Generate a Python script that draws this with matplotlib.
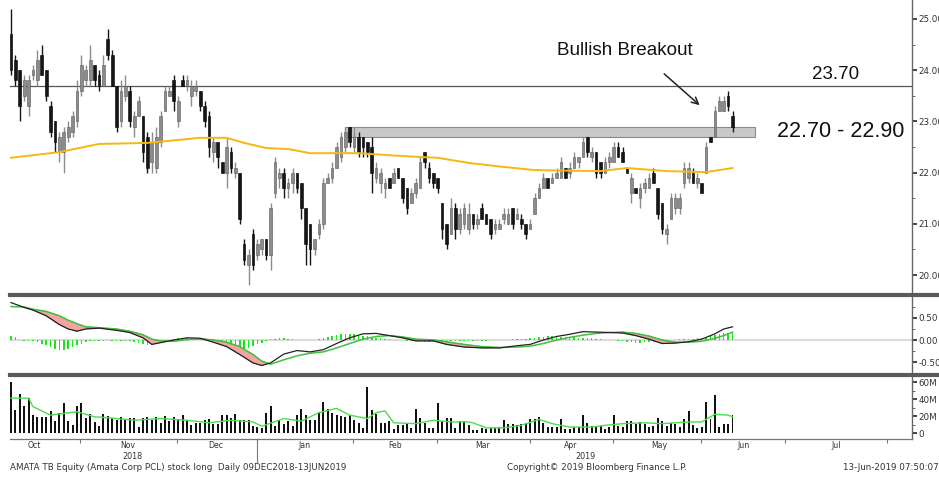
import matplotlib
matplotlib.use('Agg')
import matplotlib.pyplot as plt
import matplotlib.transforms as mtransforms
from matplotlib.patches import Rectangle
from matplotlib.lines import Line2D
import numpy as np

plt.rcParams['font.family'] = ['DejaVu Sans']

# ---------------- data ----------------
opens = [24.7, 24.2, 24.0, 23.5, 23.3, 23.9, 23.8, 24.3, 24.0, 23.3,
         23.0, 22.4, 22.4, 22.7, 22.8, 23.0, 23.6, 23.8, 23.8, 24.1,
         23.9, 23.7, 24.6, 24.3, 23.7, 23.0, 23.5, 23.6, 22.9, 23.1,
         23.1, 22.7, 22.2, 22.1, 22.6, 23.2, 23.5, 23.8, 23.0, 23.8,
         23.7, 23.5, 23.6, 23.6, 23.3, 23.1, 22.4, 22.6, 22.2, 22.0,
         22.4, 22.0, 22.0, 20.6, 20.2, 20.8, 20.4, 20.5, 20.7, 20.4,
         21.6, 21.9, 22.0, 21.7, 21.8, 22.0, 21.8, 21.3, 21.0, 20.5,
         20.8, 21.0, 21.8, 21.9, 22.1, 22.3, 22.5, 22.9, 22.5, 22.7,
         22.7, 22.6, 22.5, 21.9, 21.8, 21.7, 21.9, 21.8, 22.1, 21.9,
         21.7, 21.4, 21.6, 21.7, 22.4, 22.1, 22.0, 21.9, 21.4, 21.0,
         20.8, 21.3, 20.9, 21.0, 20.9, 21.2, 21.0, 21.3, 21.2, 21.1,
         20.9, 20.9, 21.1, 21.0, 21.3, 21.1, 21.1, 21.0, 20.9, 21.2,
         21.5, 21.7, 21.9, 21.8, 21.9, 21.9, 22.1, 22.0, 22.1, 22.2,
         22.3, 22.7, 22.3, 22.4, 22.2, 22.0, 22.2, 22.2, 22.5, 22.4,
         22.1, 21.6, 21.7, 21.5, 21.7, 21.7, 22.0, 21.7, 21.4, 20.8,
         21.1, 21.3, 21.3, 21.8, 21.9, 22.0, 21.8, 21.8, 22.0, 22.7,
         22.7, 23.2, 23.2, 23.5, 23.1]
highs = [25.2, 24.3, 24.0, 23.9, 23.9, 24.1, 24.4, 24.5, 24.0, 23.4,
         23.0, 22.8, 22.9, 23.0, 23.2, 23.8, 24.3, 24.1, 24.5, 24.1,
         24.0, 24.3, 24.8, 24.4, 23.7, 23.8, 23.9, 23.7, 23.2, 23.5,
         23.1, 22.8, 22.8, 22.9, 23.2, 23.7, 23.7, 23.9, 23.5, 23.9,
         23.9, 23.8, 23.8, 23.6, 23.4, 23.2, 22.7, 22.6, 22.2, 22.7,
         22.5, 22.2, 22.0, 20.7, 20.5, 20.9, 20.7, 20.7, 20.7, 21.4,
         22.3, 22.1, 22.1, 21.9, 22.1, 22.0, 21.8, 21.3, 21.0, 20.7,
         21.1, 21.9, 22.0, 22.2, 22.6, 22.8, 22.9, 22.9, 22.9, 22.8,
         22.7, 22.6, 22.7, 22.2, 22.1, 21.9, 21.9, 22.1, 22.1, 21.9,
         21.7, 21.7, 21.9, 22.3, 22.4, 22.2, 22.0, 21.9, 21.4, 21.0,
         21.5, 21.4, 21.3, 21.4, 21.4, 21.2, 21.2, 21.4, 21.2, 21.1,
         21.1, 21.1, 21.3, 21.3, 21.3, 21.3, 21.2, 21.0, 21.1, 21.6,
         21.8, 22.0, 21.9, 22.0, 22.1, 22.3, 22.1, 22.2, 22.4, 22.3,
         22.7, 22.7, 22.5, 22.4, 22.2, 22.3, 22.4, 22.6, 22.6, 22.5,
         22.1, 22.0, 21.7, 21.8, 21.9, 22.0, 22.1, 21.7, 21.4, 21.0,
         21.6, 21.6, 21.6, 22.2, 22.2, 22.1, 22.0, 21.8, 22.6, 22.7,
         23.3, 23.5, 23.5, 23.6, 23.2]
lows = [23.9, 23.7, 23.0, 23.4, 23.1, 23.8, 23.7, 23.9, 23.4, 22.7,
        22.4, 22.2, 22.0, 22.6, 22.7, 22.9, 23.5, 23.7, 23.7, 23.7,
        23.6, 23.7, 24.2, 23.7, 22.8, 22.9, 23.4, 22.9, 22.7, 23.1,
        22.2, 22.0, 22.0, 22.0, 22.5, 23.2, 23.5, 23.2, 22.9, 23.7,
        23.6, 23.3, 23.5, 23.2, 22.9, 22.3, 22.2, 22.1, 22.0, 21.7,
        22.0, 21.9, 21.0, 20.2, 19.8, 20.1, 20.3, 20.4, 20.3, 20.1,
        21.5, 21.7, 21.5, 21.5, 21.6, 21.6, 21.1, 20.2, 20.2, 20.4,
        20.7, 20.9, 21.8, 21.8, 22.1, 22.2, 22.4, 22.5, 22.4, 22.3,
        22.3, 22.3, 21.6, 21.8, 21.6, 21.5, 21.7, 21.8, 21.9, 21.4,
        21.2, 21.4, 21.5, 21.7, 22.1, 21.8, 21.7, 21.6, 20.7, 20.5,
        20.8, 20.7, 20.8, 20.9, 20.8, 20.9, 20.9, 21.1, 21.0, 20.7,
        20.8, 20.9, 21.0, 21.0, 20.9, 21.1, 20.9, 20.7, 20.9, 21.2,
        21.5, 21.7, 21.7, 21.8, 21.9, 21.9, 21.9, 21.9, 22.1, 22.1,
        22.3, 22.3, 22.2, 21.9, 21.9, 22.0, 22.1, 22.2, 22.3, 22.2,
        22.0, 21.4, 21.6, 21.3, 21.6, 21.7, 21.8, 21.1, 20.8, 20.6,
        21.1, 21.2, 21.2, 21.7, 21.8, 21.8, 21.7, 21.6, 22.0, 22.6,
        22.7, 23.2, 23.2, 23.2, 22.8]
closes = [24.0, 23.8, 23.3, 23.8, 23.8, 24.0, 24.2, 23.9, 23.5, 22.8,
          22.6, 22.7, 22.8, 22.9, 23.1, 23.6, 24.1, 24.0, 24.2, 23.8,
          23.7, 24.1, 24.3, 23.7, 22.9, 23.6, 23.7, 23.0, 23.1, 23.4,
          22.4, 22.1, 22.6, 22.7, 23.1, 23.6, 23.6, 23.4, 23.4, 23.7,
          23.8, 23.7, 23.7, 23.3, 23.0, 22.5, 22.6, 22.3, 22.0, 22.5,
          22.1, 22.1, 21.1, 20.3, 20.4, 20.2, 20.6, 20.7, 20.4, 21.3,
          22.2, 22.0, 21.7, 21.8, 22.0, 21.7, 21.3, 20.6, 20.5, 20.7,
          21.0, 21.8, 21.9, 22.1, 22.5, 22.7, 22.8, 22.6, 22.7, 22.4,
          22.5, 22.4, 22.0, 22.1, 22.0, 21.8, 21.7, 22.0, 21.9, 21.5,
          21.3, 21.6, 21.8, 22.2, 22.2, 21.9, 21.8, 21.7, 20.9, 20.6,
          21.3, 20.9, 21.2, 21.3, 21.2, 21.0, 21.1, 21.1, 21.0, 20.8,
          21.0, 21.0, 21.2, 21.2, 21.0, 21.2, 21.0, 20.8, 21.0, 21.5,
          21.7, 21.9, 21.7, 21.9, 22.0, 22.2, 21.9, 22.1, 22.3, 22.3,
          22.6, 22.4, 22.4, 22.0, 22.0, 22.2, 22.3, 22.5, 22.3, 22.2,
          22.0, 21.9, 21.6, 21.7, 21.8, 21.9, 21.8, 21.2, 20.9, 20.9,
          21.5, 21.5, 21.5, 22.1, 22.1, 21.8, 21.9, 21.6, 22.5, 22.6,
          23.2, 23.4, 23.4, 23.3, 22.9]
volumes = [60, 27, 46, 32, 41, 21, 19, 19, 19, 26,
           14, 24, 35, 14, 9, 32, 35, 18, 22, 13,
           8, 22, 20, 18, 15, 19, 15, 18, 18, 7,
           18, 19, 15, 19, 12, 20, 14, 19, 15, 21,
           14, 9, 12, 12, 15, 17, 11, 11, 21, 21,
           18, 22, 15, 15, 15, 8, 7, 6, 24, 32,
           8, 15, 11, 14, 8, 21, 28, 21, 15, 15,
           24, 37, 28, 24, 21, 20, 19, 21, 15, 12,
           6, 54, 27, 22, 12, 12, 14, 5, 9, 9,
           11, 6, 28, 18, 12, 6, 6, 35, 14, 18,
           18, 6, 14, 14, 10, 4, 4, 6, 5, 6,
           6, 7, 15, 11, 11, 9, 11, 12, 16, 16,
           19, 12, 7, 7, 7, 16, 5, 5, 7, 7,
           21, 12, 8, 8, 8, 5, 7, 21, 8, 7,
           14, 14, 11, 13, 11, 7, 8, 18, 14, 8,
           12, 11, 7, 16, 26, 9, 6, 7, 37, 16,
           45, 7, 11, 11, 21]
macd_hist = [0.10, 0.06, -0.01, -0.02, -0.02, -0.03, -0.04,
             -0.08, -0.12, -0.16, -0.20, -0.22, -0.22, -0.20, -0.16, -0.12, -0.08,
             -0.04, -0.03, -0.02, -0.02, -0.02, -0.01, -0.02, -0.03, -0.03, -0.02, -0.03, -0.04,
             -0.06, -0.09, -0.12, -0.12, -0.10, -0.06,
             -0.02, 0.01, 0.03, 0.04, 0.04, 0.05, 0.04, 0.03, 0.02, 0.01, -0.01,
             -0.04, -0.07, -0.10, -0.13, -0.16, -0.18, -0.20, -0.20, -0.18, -0.14, -0.10, -0.06, -0.02,
             0.02, 0.03, 0.04, 0.04, 0.03, 0.02, 0.01, 0.01, 0.00, -0.01, 0.00, 0.02, 0.04, 0.06,
             0.09, 0.11, 0.13, 0.14, 0.14, 0.13, 0.12, 0.10, 0.08, 0.06, 0.05, 0.04,
             0.03, 0.02, 0.01, 0.00, -0.01, -0.02, -0.02, -0.03, -0.03,
             -0.04, -0.04, -0.05, -0.05, -0.04, -0.04, -0.03, -0.03, -0.02, -0.02, -0.02,
             -0.03, -0.03, -0.02, -0.02, -0.01, -0.01, 0.00, 0.01, 0.01, 0.02, 0.02, 0.03, 0.03, 0.04,
             0.05, 0.06, 0.07, 0.08, 0.08, 0.08, 0.07, 0.07, 0.06, 0.06, 0.05, 0.05, 0.04, 0.04, 0.03, 0.02,
             0.01, 0.00, -0.01, -0.02, -0.03, -0.04, -0.05, -0.06, -0.06, -0.05, -0.05, -0.04, -0.03,
             -0.02, -0.01, 0.00, 0.01, 0.02, 0.02, 0.03, 0.03, 0.04,
             0.05, 0.07, 0.09, 0.11, 0.13, 0.15, 0.16, 0.15]

ma_idx = [0, 11, 20, 31, 43, 49, 53, 58, 63, 68, 79, 86, 94, 97, 104, 111, 119, 125, 134, 140, 149, 158, 164]
ma_val = [22.29, 22.40, 22.56, 22.58, 22.68, 22.68, 22.58, 22.48, 22.46, 22.38, 22.38, 22.34,
          22.30, 22.29, 22.19, 22.12, 22.05, 22.04, 22.03, 22.09, 22.03, 22.01, 22.09]

macd_idx = [0, 3, 5, 8, 11, 13, 15, 17, 20, 24, 27, 30, 32, 34, 37, 40, 43, 46, 49, 52,
            55, 57, 59, 62, 65, 68, 71, 74, 77, 80, 83, 86, 89, 92, 96, 99, 103, 107, 111, 115,
            118, 121, 124, 127, 130, 133, 136, 139, 142, 145, 148, 151, 154, 157, 160, 162, 164]
macd_line = [0.85, 0.74, 0.68, 0.55, 0.35, 0.25, 0.20, 0.25, 0.27, 0.22,
             0.17, 0.05, -0.10, -0.06, 0.00, 0.05, 0.04, -0.05, -0.15, -0.33,
             -0.52, -0.58, -0.52, -0.32, -0.24, -0.27, -0.22, -0.08, 0.05, 0.14,
             0.15, 0.10, 0.05, -0.02, -0.02, -0.10, -0.16, -0.18, -0.18, -0.13,
             -0.10, 0.00, 0.08, 0.13, 0.19, 0.18, 0.17, 0.16, 0.10, 0.02,
             -0.08, -0.07, -0.04, 0.02, 0.14, 0.25, 0.30]
signal_line = [0.76, 0.75, 0.70, 0.65, 0.55, 0.45, 0.37, 0.30, 0.28, 0.25,
               0.20, 0.12, 0.02, -0.02, -0.03, 0.01, 0.03, 0.00, -0.05, -0.15,
               -0.33, -0.48, -0.55, -0.45, -0.36, -0.30, -0.27, -0.18, -0.08, 0.02,
               0.08, 0.10, 0.07, 0.02, 0.00, -0.04, -0.10, -0.15, -0.17, -0.16,
               -0.14, -0.08, 0.00, 0.06, 0.11, 0.15, 0.17, 0.18, 0.15, 0.09,
               0.00, -0.05, -0.05, -0.03, 0.04, 0.10, 0.18]

vma_idx = [0, 4, 5, 9, 15, 19, 22, 28, 34, 40, 45, 50, 55, 57, 62, 66, 70, 74, 77, 81,
           83, 85, 87, 92, 96, 100, 104, 105, 108, 112, 116, 120, 123, 127, 132, 135, 139, 144, 148, 154,
           157, 160, 163, 164]
vma_val = [41, 41, 31, 21, 25, 19, 18, 15, 17, 15, 12, 15, 13, 8, 17, 14, 24, 29, 21, 17,
           24, 26, 12, 11, 15, 13, 13, 12, 6, 6, 9, 16, 11, 7, 7, 9, 11, 12, 11, 13,
           13, 22, 21, 19]

month_labels = ['Oct', 'Nov', 'Dec', 'Jan', 'Feb', 'Mar', 'Apr', 'May', 'Jun', 'Jul']
month_centers = [5.2, 26.6, 46.6, 66.8, 87.3, 107.3, 127.3, 147.3, 166.4, 187.5]
month_bounds = [15.7, 37.7, 55.9, 77.7, 96.8, 118.0, 136.8, 156.8, 175.9, 199.1]
year_labels = ['2018', '2019']
year_pos = [27.7, 130.5]
year_bound = 55.9

resistance = 23.70
zone_low, zone_high = 22.70, 22.90
zone_start, zone_end = 75.9, 169.1

# ---------------- layout ----------------
W, H = 939, 479
fig = plt.figure(figsize=(W / 100, H / 100), dpi=100)
fig.patch.set_facecolor('white')

def pbox(x0, y0, x1, y1):
    return [x0 / W, 1 - y1 / H, (x1 - x0) / W, (y1 - y0) / H]

ax = fig.add_axes(pbox(10, 0, 912, 293))
axm = fig.add_axes(pbox(10, 297, 912, 372), sharex=ax)
axv = fig.add_axes(pbox(10, 377, 912, 439), sharex=ax)

XMIN, XMAX = -0.23, 204.8
idx = np.arange(len(closes))
o = np.array(opens); c = np.array(closes)
up = c >= o
body_col = np.where(up, '#8c8c8c', '#161616')
edge_col = np.where(up, '#5a5a5a', '#000000')

# price candles
ax.vlines(idx, lows, highs, colors=body_col, lw=1.0, zorder=3)
ax.bar(idx, np.maximum(np.abs(c - o), 0.03), bottom=np.minimum(o, c), width=0.6,
       color=body_col, edgecolor=edge_col, linewidth=0.4, zorder=4)
ax.plot(ma_idx, ma_val, color='#f6b80c', lw=1.4, zorder=5)
ax.axhline(resistance, color='#555555', lw=0.9, zorder=2)
ax.add_patch(Rectangle((zone_start, zone_low), zone_end - zone_start, zone_high - zone_low,
                       facecolor='#c8c8c8', edgecolor='#8a8a8a', lw=0.8, zorder=2))

ax.text(124.1, 24.375, 'Bullish Breakout', family='Liberation Sans', fontsize=13.6,
        va='center', ha='left', color='#111111')
ax.text(182.0, 23.906, '23.70', family='Liberation Sans', fontsize=13.5,
        va='center', ha='left', color='#111111')
ax.text(174.1, 22.81, '22.70 - 22.90', family='Liberation Sans', fontsize=15.5,
        va='center', ha='left', color='#111111')
ax.annotate('', xy=(157.0, 23.28), xytext=(148.0, 23.965),
            arrowprops=dict(arrowstyle='->', color='#222222', lw=1.1, mutation_scale=12))

ax.set_xlim(XMIN, XMAX)
ax.set_ylim(19.65, 25.37)

# MACD panel
axm.axhline(0, color='#dcdcdc', lw=1.6, zorder=1)
axm.bar(idx, macd_hist, width=0.35, color='#1ee41e', zorder=2)
mi = np.array(macd_idx); ml = np.array(macd_line); sl = np.array(signal_line)
axm.fill_between(mi, ml, sl, where=ml < sl, interpolate=True, color='#f4a3a3',
                 edgecolor='#a04040', lw=0.4, zorder=3)
axm.plot(mi, sl, color='#3cc23c', lw=1.1, zorder=4)
axm.plot(mi, ml, color='#222222', lw=0.9, zorder=5)
axm.set_ylim(-0.727, 0.977)

# Volume panel
axv.bar(idx, volumes, width=0.45, color='#111111', zorder=2)
axv.plot(vma_idx, vma_val, color='#4ade4a', lw=1.0, zorder=3)
axv.set_ylim(-7.06, 65.9)

# axes styling
for a in (ax, axm, axv):
    for s in ('left', 'top', 'bottom'):
        a.spines[s].set_visible(False)
    a.spines['right'].set_color('#666666')
    a.spines['right'].set_linewidth(1.0)
    a.yaxis.tick_right()
    a.tick_params(axis='y', which='major', direction='out', length=3.5, width=1.4,
                  colors='#444444', labelsize=6.3, pad=1, labelcolor='#333333')
    a.tick_params(axis='y', which='minor', direction='out', length=2, width=0.7, colors='#666666')
    a.tick_params(axis='x', which='both', bottom=False, labelbottom=False)

ax.set_yticks([20, 21, 22, 23, 24, 25])
ax.set_yticklabels(['%.2f' % v for v in [20, 21, 22, 23, 24, 25]])
ax.set_yticks(np.arange(20.5, 25.0, 1.0), minor=True)

axm.set_yticks([-0.5, 0.0, 0.5])
axm.set_yticklabels(['-0.50', '0.00', '0.50'])
axm.set_yticks([-0.25, 0.25, 0.75], minor=True)

axv.set_yticks([0, 20, 40, 60])
axv.set_yticklabels(['0', '20M', '40M', '60M'])
axv.set_yticks([10, 30, 50], minor=True)

axv.spines['bottom'].set_visible(True)
axv.spines['bottom'].set_color('#777777')
axv.spines['bottom'].set_linewidth(0.9)
axv.set_xticks(month_bounds)
axv.set_xticks(month_centers, minor=True)
axv.set_xticklabels([''] * len(month_bounds))
axv.set_xticklabels(month_labels, minor=True)
axv.tick_params(axis='x', which='major', bottom=True, direction='out', length=3,
                width=0.8, colors='#777777')
axv.tick_params(axis='x', which='minor', bottom=True, length=0, labelbottom=True,
                labelsize=5.6, labelcolor='#333333', pad=1.2)
axv.set_xlim(XMIN, XMAX)

# year labels and boundary
trans = mtransforms.blended_transform_factory(axv.transData, fig.transFigure)
for lab, xp in zip(year_labels, year_pos):
    fig.text(xp, 1 - 456.5 / H, lab, transform=trans, fontsize=5.8, ha='center',
             va='center', color='#333333')
fig.add_artist(Line2D([year_bound, year_bound], [1 - 439 / H, 1 - 462 / H], transform=trans,
                      color='#777777', lw=0.8))

# separators
for yy in (295, 374.5):
    fig.add_artist(Line2D([10 / W, 1.0], [1 - yy / H] * 2, color='#5a5a5a', lw=3.0))

# footer
fig.text(10 / W, 1 - 467.5 / H, 'AMATA TB Equity (Amata Corp PCL) stock long  Daily 09DEC2018-13JUN2019',
         fontsize=6.3, va='center', ha='left', color='#333333')
fig.text(507 / W, 1 - 467.5 / H, 'Copyright\u00a9 2019 Bloomberg Finance L.P.',
         fontsize=6.3, va='center', ha='left', color='#333333')
fig.text(843 / W, 1 - 467.5 / H, '13-Jun-2019 07:50:07',
         fontsize=6.3, va='center', ha='left', color='#333333')

fig.savefig('out.png', dpi=100)
